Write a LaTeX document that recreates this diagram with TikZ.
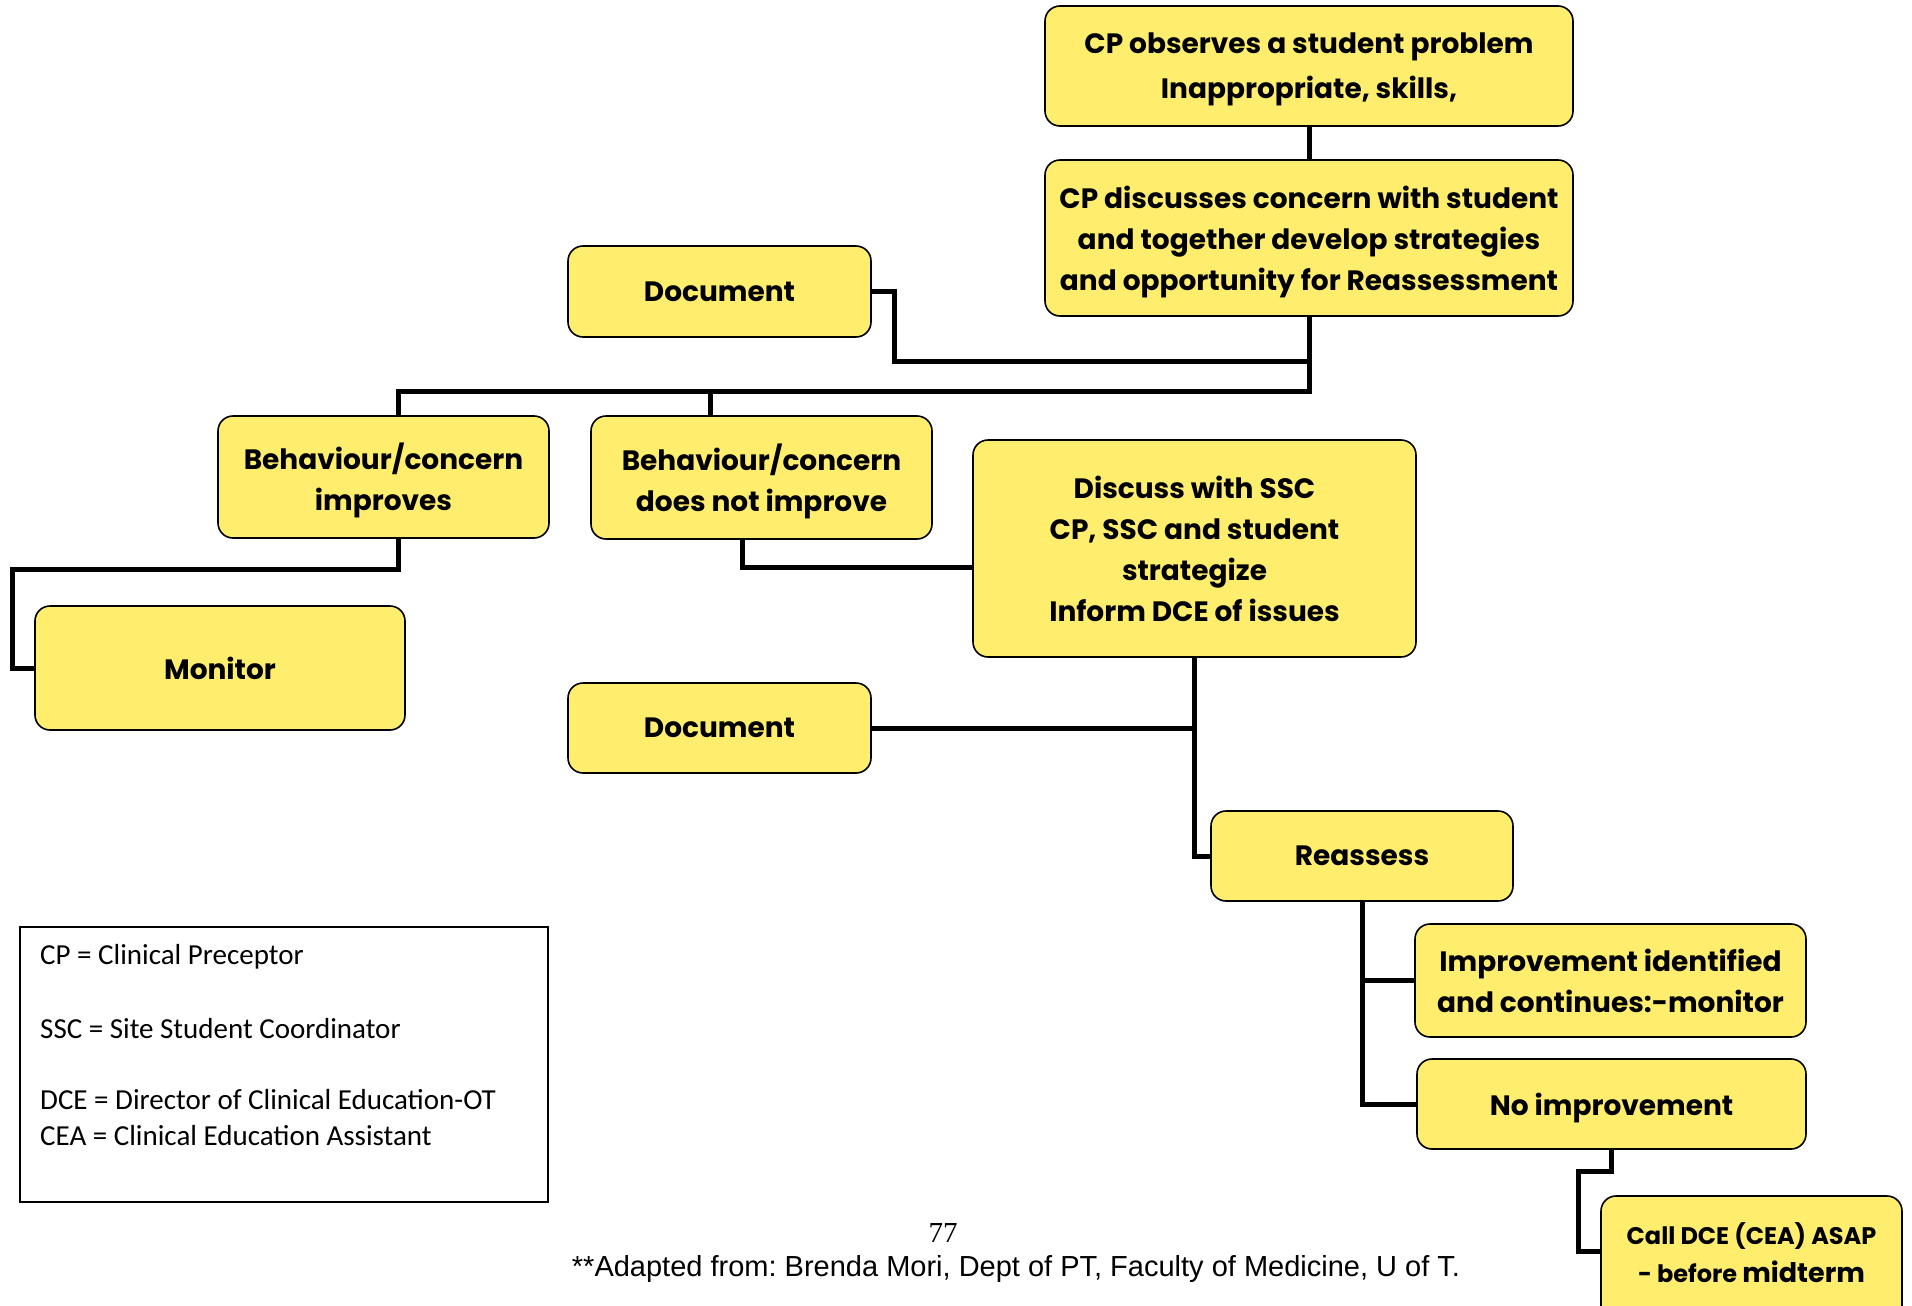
\documentclass[tikz,border=0pt]{standalone}
\usepackage{fontspec}
\newfontfamily\boxfont{Poppins}
\newfontfamily\legendfont{Carlito}
\newfontfamily\footfont{Liberation Sans}
\newfontfamily\pagefont{Liberation Serif}
\definecolor{boxyellow}{HTML}{FFEE6E}
\frenchspacing
\tikzset{
  flowbox/.style={draw=black, line width=1.6, fill=boxyellow, rounded corners=15,
    align=center, inner sep=0pt, text depth=0pt,
    font=\boxfont\bfseries\fontsize{28}{41}\selectfont},
  link/.style={draw=black, line width=5, line join=miter},
  legendtxt/.style={anchor=west, inner sep=0pt, font=\legendfont\fontsize{29}{34}\selectfont}
}
\begin{document}
\begin{tikzpicture}[x=1pt, y=-1pt]
\useasboundingbox (0,0) rectangle (1912,1306);

% boxes of the flow chart
\node[flowbox, minimum width=528, minimum height=120,
  font=\boxfont\bfseries\fontsize{28}{45}\selectfont] (A) at (1309,66)
  {CP observes a student problem\\Inappropriate, skills,};
\node[flowbox, minimum width=528, minimum height=156] (B) at (1309,238)
  {CP discusses concern with student\\and together develop strategies\\and opportunity for Reassessment};
\node[flowbox, minimum width=303, minimum height=91] (Doc1) at (719.5,291.5) {Document};
\node[flowbox, minimum width=331, minimum height=122] (C) at (383.5,477)
  {Behaviour/concern\\improves};
\node[flowbox, minimum width=341, minimum height=123] (D) at (761.5,477.5)
  {Behaviour/concern\\does not improve};
\node[flowbox, minimum width=443, minimum height=217] (E) at (1194.5,548.5)
  {Discuss with SSC\\CP, SSC and student\\strategize\\Inform DCE of issues};
\node[flowbox, minimum width=370, minimum height=124] (Monitor) at (220,668) {Monitor};
\node[flowbox, minimum width=303, minimum height=90] (Doc2) at (719.5,728) {Document};
\node[flowbox, minimum width=302, minimum height=90] (Reassess) at (1362,856) {Reassess};
\node[flowbox, minimum width=391, minimum height=113] (Impr) at (1610.5,980.5)
  {Improvement identified\\and continues:-monitor};
\node[flowbox, minimum width=389, minimum height=90] (NoImp) at (1611.5,1104) {No improvement};
\node[flowbox, minimum width=301, minimum height=134] (Call) at (1751.5,1263) {};
\node[inner sep=0pt, align=center, font=\boxfont\bfseries\fontsize{24}{38}\selectfont] (calltxt) at (1751.5,1253)
  {Call DCE (CEA) ASAP\\- before {\fontsize{27}{38}\selectfont midterm}};

% connectors
\coordinate (busL) at (398,391);
\coordinate (busM) at (710,391);
\coordinate (d1k) at (894,361);
\coordinate (cm) at (398,569);
\coordinate (cl) at (12,569);
\coordinate (dk) at (742,567);
\coordinate (nk) at (1578,1171);
\coordinate (ck) at (1578,1251);

\draw[link] (A.south) -- (B.north);
\draw[link] (B.south) |- (busL) -- (busL |- C.north);
\draw[link] (busM) -- (busM |- D.north);
\draw[link] (Doc1.east) -| (d1k) -- (d1k -| B.south);
\draw[link] (cm |- C.south) -- (cm) -- (cl) |- (Monitor.west);
\draw[link] (dk |- D.south) -- (dk) -- (dk -| E.west);
\draw[link] (E.south) |- (Reassess.west);
\draw[link] (Doc2.east) -- (Doc2.east -| E.south);
\draw[link] (Reassess.south) |- (NoImp.west);
\draw[link] (Reassess.south |- Impr.west) -- (Impr.west);
\draw[link] (NoImp.south) |- (nk) -- (ck) -- (ck -| Call.west);

% legend of abbreviations
\node[draw=black, line width=1.6, minimum width=528, minimum height=275, inner sep=0pt] (legend) at (284,1064.5) {};
\node[legendtxt] (lcp) at (40,957) {CP = Clinical Preceptor};
\node[legendtxt] (lssc) at (40,1029) {SSC = Site Student Coordinator};
\node[legendtxt] (ldce) at (40,1100) {DCE = Director of Clinical Education-OT};
\node[legendtxt] (lcea) at (40,1136) {CEA = Clinical Education Assistant};

% page footer
\node[inner sep=0pt, font=\pagefont\fontsize{29}{30}\selectfont] (pagenum) at (943,1233) {77};
\node[inner sep=0pt, font=\footfont\fontsize{29}{30}\selectfont] (credit) at (1016,1269)
  {**Adapted from: Brenda Mori, Dept of PT, Faculty of Medicine, U of T.};
\end{tikzpicture}
\end{document}
